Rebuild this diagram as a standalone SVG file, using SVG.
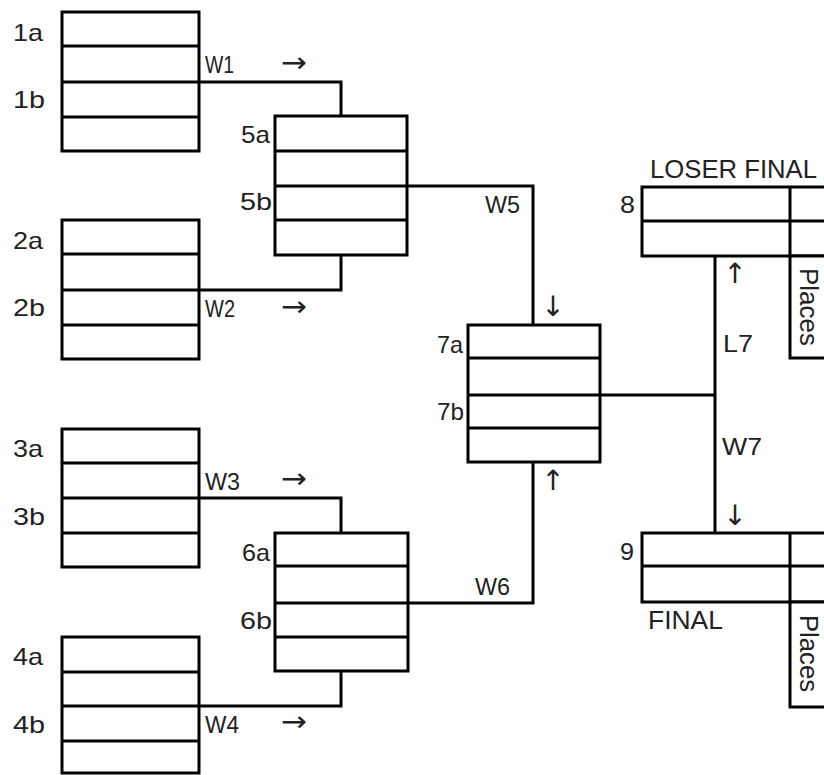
<svg xmlns="http://www.w3.org/2000/svg" width="824" height="775" viewBox="0 0 824 775">
<style>
.b{fill:#fff;stroke:#000;stroke-width:3}
.l{fill:none;stroke:#000;stroke-width:3}
text{font-family:"Liberation Sans",Arial,sans-serif;fill:#222;font-size:24px}
.big{font-size:25px}
.ar{font-family:"DejaVu Sans",sans-serif;font-size:28px;text-anchor:middle}
.ah{font-family:"DejaVu Sans",sans-serif;font-size:28px}
</style>
<rect width="824" height="775" fill="#fff"/>
<g id="connectors" class="l">
<path d="M199 82H341V116"/>
<path d="M199 290H341V255"/>
<path d="M199 498H341V533"/>
<path d="M199 706H341V671"/>
<path d="M407 186H533V325"/>
<path d="M408 603H533V462"/>
<path d="M600 395H715"/>
<path d="M715 256V533"/>
</g>
<g id="connector-labels">
<text x="205" y="73" textLength="29" lengthAdjust="spacingAndGlyphs">W1</text>
<text class="ah" x="281" y="72" textLength="26" lengthAdjust="spacingAndGlyphs">→</text>
<text x="205" y="317" textLength="30" lengthAdjust="spacingAndGlyphs">W2</text>
<text class="ah" x="281" y="316" textLength="26" lengthAdjust="spacingAndGlyphs">→</text>
<text x="205" y="490" textLength="35" lengthAdjust="spacingAndGlyphs">W3</text>
<text class="ah" x="281" y="488" textLength="26" lengthAdjust="spacingAndGlyphs">→</text>
<text x="205" y="733" textLength="34" lengthAdjust="spacingAndGlyphs">W4</text>
<text class="ah" x="281" y="731" textLength="26" lengthAdjust="spacingAndGlyphs">→</text>
<text x="485" y="213" textLength="35" lengthAdjust="spacingAndGlyphs">W5</text>
<text class="ar" x="553" y="316">↓</text>
<text x="475" y="595" textLength="35" lengthAdjust="spacingAndGlyphs">W6</text>
<text class="ar" x="553" y="490">↑</text>
<text x="723" y="352" textLength="30" lengthAdjust="spacingAndGlyphs">L7</text>
<text class="ar" x="735" y="283">↑</text>
<text x="722" y="455" textLength="40" lengthAdjust="spacingAndGlyphs">W7</text>
<text class="ar" x="735" y="525">↓</text>
</g>
<g id="m1">
<rect class="b" x="62" y="12" width="137" height="139"/>
<path class="l" d="M62 46H199M62 82H199M62 117H199"/>
<text x="13" y="41" textLength="30" lengthAdjust="spacingAndGlyphs">1a</text>
<text x="13" y="108" textLength="32" lengthAdjust="spacingAndGlyphs">1b</text>
</g>
<g id="m2">
<rect class="b" x="62" y="220" width="137" height="139"/>
<path class="l" d="M62 254H199M62 290H199M62 325H199"/>
<text x="13" y="249" textLength="30" lengthAdjust="spacingAndGlyphs">2a</text>
<text x="13" y="316" textLength="32" lengthAdjust="spacingAndGlyphs">2b</text>
</g>
<g id="m3">
<rect class="b" x="62" y="429" width="137" height="138"/>
<path class="l" d="M62 463H199M62 498H199M62 533H199"/>
<text x="13" y="457" textLength="30" lengthAdjust="spacingAndGlyphs">3a</text>
<text x="13" y="525" textLength="32" lengthAdjust="spacingAndGlyphs">3b</text>
</g>
<g id="m4">
<rect class="b" x="62" y="637" width="137" height="136"/>
<path class="l" d="M62 672H199M62 706H199M62 741H199"/>
<text x="13" y="665" textLength="30" lengthAdjust="spacingAndGlyphs">4a</text>
<text x="13" y="733" textLength="32" lengthAdjust="spacingAndGlyphs">4b</text>
</g>
<g id="m5">
<rect class="b" x="275" y="116" width="132" height="139"/>
<path class="l" d="M275 151H407M275 186H407M275 220H407"/>
<text x="241" y="143" textLength="29" lengthAdjust="spacingAndGlyphs">5a</text>
<text x="240" y="210" textLength="32" lengthAdjust="spacingAndGlyphs">5b</text>
</g>
<g id="m6">
<rect class="b" x="275" y="533" width="133" height="138"/>
<path class="l" d="M275 566H408M275 603H408M275 637H408"/>
<text x="242" y="561" textLength="28" lengthAdjust="spacingAndGlyphs">6a</text>
<text x="240" y="629" textLength="32" lengthAdjust="spacingAndGlyphs">6b</text>
</g>
<g id="m7">
<rect class="b" x="468" y="325" width="132" height="137"/>
<path class="l" d="M468 358H600M468 395H600M468 428H600"/>
<text x="437" y="353" textLength="26" lengthAdjust="spacingAndGlyphs">7a</text>
<text x="437" y="420" textLength="27" lengthAdjust="spacingAndGlyphs">7b</text>
</g>
<g id="m8">
<rect class="b" x="642" y="187" width="190" height="69"/>
<rect class="b" x="790" y="256" width="42" height="102"/>
<path class="l" d="M642 221H832M790 187V256"/>
<text x="620" y="213" textLength="15" lengthAdjust="spacingAndGlyphs">8</text>
<text class="big" x="650" y="178" textLength="167" lengthAdjust="spacingAndGlyphs">LOSER FINAL</text>
<text class="big" transform="translate(800 268) rotate(90)" textLength="78" lengthAdjust="spacingAndGlyphs">Places</text>
</g>
<g id="m9">
<rect class="b" x="642" y="533" width="190" height="69"/>
<rect class="b" x="790" y="602" width="42" height="105"/>
<path class="l" d="M642 566H832M790 533V602"/>
<text x="620" y="560" textLength="14" lengthAdjust="spacingAndGlyphs">9</text>
<text class="big" x="648" y="629" textLength="75" lengthAdjust="spacingAndGlyphs">FINAL</text>
<text class="big" transform="translate(800 615) rotate(90)" textLength="77" lengthAdjust="spacingAndGlyphs">Places</text>
</g>
</svg>
